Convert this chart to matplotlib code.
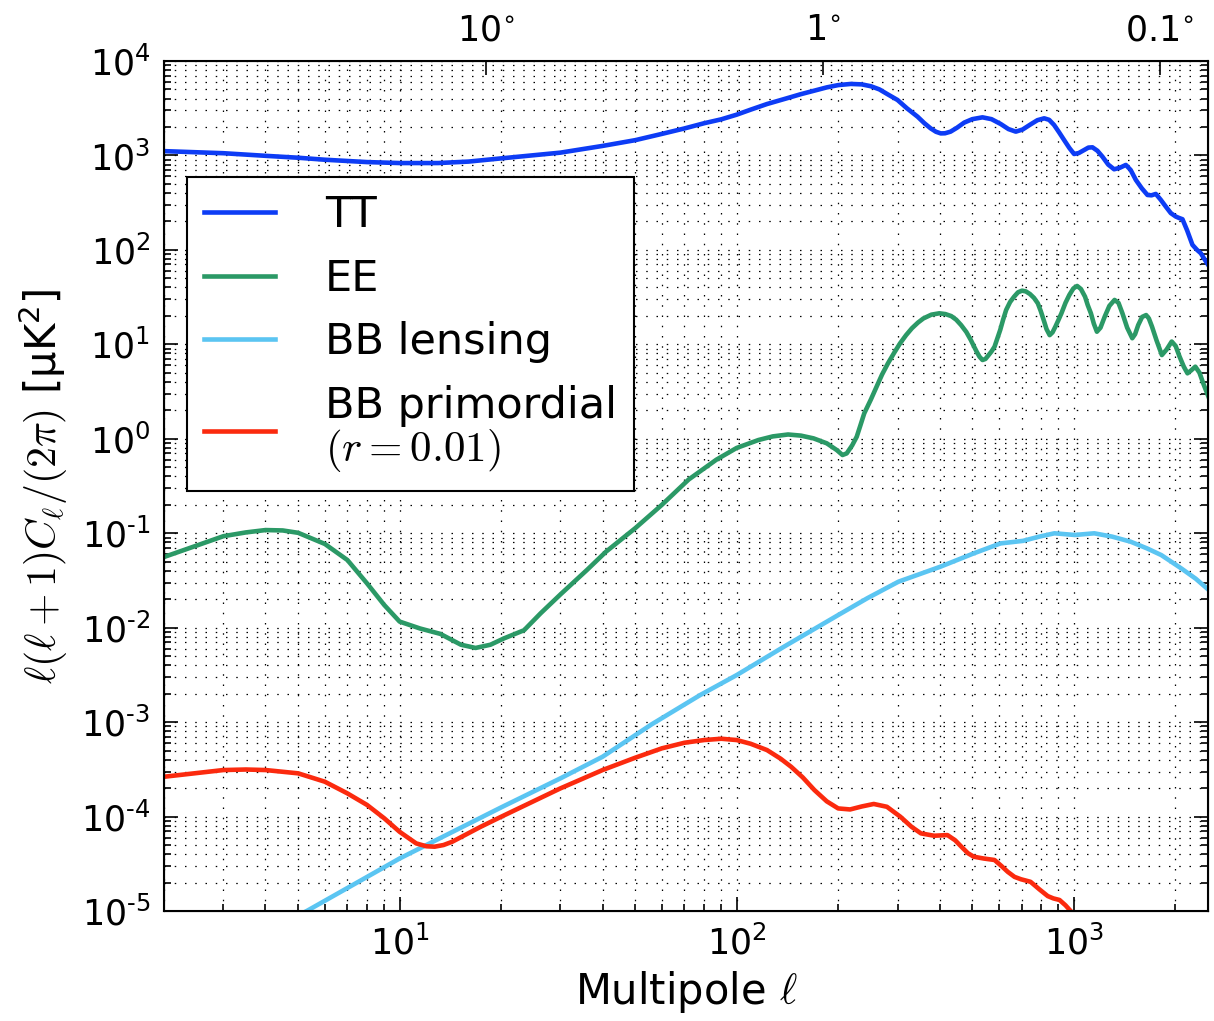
import matplotlib
matplotlib.use('Agg')
import matplotlib.pyplot as plt
import numpy as np
from matplotlib.ticker import FixedLocator, LogLocator, FuncFormatter, NullLocator, NullFormatter

plt.rcParams['font.family'] = 'DejaVu Sans'
plt.rcParams['mathtext.fontset'] = 'cm'

# values (multipole, D_ell in uK^2)
ell_tt = [2, 3, 4, 5, 6, 8, 10, 13, 16, 20, 30, 40, 50, 60, 70, 80, 90, 100, 110, 123,
          140, 155, 170, 185, 200, 218, 235, 250, 265, 280, 300, 320, 344, 360, 376, 390,
          403, 415, 431, 450, 473, 500, 536, 570, 607, 640, 673, 705, 745, 780, 817, 845,
          874, 905, 936, 970, 1002, 1035, 1073, 1105, 1136, 1175, 1216, 1265, 1317, 1370,
          1427, 1475, 1528, 1590, 1654, 1700, 1751, 1810, 1875, 1940, 2008, 2050, 2101,
          2170, 2249, 2320, 2382, 2440, 2500]
tt = [1110, 1055, 990, 945, 900, 850, 830, 830, 860, 930, 1070, 1260, 1450, 1690, 1930, 2190,
      2410, 2700, 3050, 3500, 4000, 4450, 4850, 5250, 5550, 5710, 5650, 5400, 5000, 4450, 3860,
      3150, 2570, 2200, 1935, 1780, 1710, 1715, 1785, 1960, 2225, 2420, 2530, 2420, 2150, 1900,
      1785, 1880, 2135, 2360, 2470, 2380, 2100, 1750, 1455, 1200, 1035, 1060, 1140, 1210, 1218,
      1120, 970, 800, 713, 740, 793, 700, 550, 450, 381, 378, 391, 340, 287, 245, 225, 218, 211,
      160, 113, 100, 92, 80, 70]

ell_ee = [2, 3, 3.5, 4, 4.5, 5, 6, 7, 8, 9, 10, 11.5, 13.2, 15.2, 16.8, 18.6, 20.4, 23.4, 26.2,
          30, 36, 41, 50, 60, 72, 87, 100, 116, 128, 142, 155, 169, 185, 198, 206, 212, 220, 227,
          233, 239, 250, 260, 270, 281, 293, 305, 318, 331, 345, 358, 378, 399, 416, 433, 448,
          463, 480, 495, 505, 515, 525, 536, 547, 559, 570, 582, 593, 605, 617, 630, 647, 665,
          683, 702, 721, 741, 762, 782, 798, 814, 830, 848, 865, 882, 900, 919, 945, 970, 997,
          1023, 1050, 1080, 1100, 1124, 1147, 1171, 1200, 1235, 1275, 1321, 1357, 1394, 1440,
          1491, 1520, 1553, 1595, 1639, 1670, 1706, 1760, 1825, 1885, 1952, 2005, 2060, 2120,
          2174, 2230, 2294, 2360, 2421, 2520]
ee = [0.056, 0.093, 0.102, 0.108, 0.107, 0.101, 0.077, 0.052, 0.0295, 0.0174, 0.0116, 0.0098,
      0.0086, 0.0066, 0.0061, 0.0066, 0.0077, 0.0094, 0.0142, 0.0225, 0.041, 0.064, 0.113, 0.2,
      0.37, 0.6, 0.8, 0.97, 1.06, 1.11, 1.08, 1.01, 0.895, 0.76, 0.673, 0.70, 0.85, 1.05, 1.4,
      1.86, 2.6, 3.56, 4.8, 6.29, 8.1, 10.2, 12.5, 14.8, 17.0, 18.8, 20.6, 21.3, 20.9, 19.9,
      18.2, 16.0, 13.5, 11.1, 9.6, 8.36, 7.4, 6.82, 7.0, 7.70, 8.4, 9.44, 11.5, 14.2, 18.2,
      23.1, 28.0, 31.9, 35.5, 37.0, 36.3, 34.1, 31.0, 27.2, 22.5, 18.1, 14.5, 12.5, 13.4, 15.4,
      18.0, 21.3, 27.5, 33.3, 39.0, 41.5, 38.5, 31.9, 26.0, 21.3, 16.5, 13.6, 15.0, 19.6, 25.5,
      29.5, 27.5, 21.3, 15.0, 11.6, 12.8, 16.0, 19.5, 20.4, 18.8, 15.4, 11.0, 7.70, 8.8, 10.7,
      9.6, 7.40, 5.8, 4.93, 5.3, 5.80, 5.0, 3.86, 2.68]

ell_lens = [5, 5.3, 10, 20, 30, 40, 56, 78, 100, 138, 200, 244, 302, 402, 505, 606, 707, 790,
            876, 1007, 1150, 1300, 1475, 1650, 1818, 2082, 2300, 2500]
bb_lens = [9e-6, 1e-5, 3.6e-5, 1.25e-4, 2.54e-4, 4.3e-4, 9.5e-4, 1.94e-3, 3.15e-3, 6.28e-3,
           1.36e-2, 2.05e-2, 3.07e-2, 4.42e-2, 6.12e-2, 7.8e-2, 8.3e-2, 9.2e-2, 9.98e-2, 9.58e-2,
           9.98e-2, 9.2e-2, 8.13e-2, 6.9e-2, 5.87e-2, 4.25e-2, 3.3e-2, 2.55e-2]

ell_prim = [2, 3, 3.5, 4, 5, 6, 7, 8, 9, 10, 11.2, 12, 12.7, 13.5, 14.3, 17.4, 20, 30, 40, 50,
            60, 70, 80, 90, 100, 110, 123, 135, 145, 157, 170, 185, 200, 217, 235, 255, 279, 306,
            330, 352, 385, 422, 445, 464, 485, 505, 540, 582, 610, 637, 667, 697, 744, 790, 837,
            870, 907, 945, 979, 1050]
bb_prim = [2.64e-4, 3.11e-4, 3.15e-4, 3.11e-4, 2.87e-4, 2.34e-4, 1.76e-4, 1.33e-4, 9.6e-5,
           6.9e-5, 5.2e-5, 4.85e-5, 4.8e-5, 5.0e-5, 5.4e-5, 7.8e-5, 9.95e-5, 1.99e-4, 3.11e-4,
           4.2e-4, 5.28e-4, 6.05e-4, 6.46e-4, 6.67e-4, 6.46e-4, 5.9e-4, 5.06e-4, 4.1e-4, 3.37e-4,
           2.6e-4, 1.91e-4, 1.45e-4, 1.22e-4, 1.19e-4, 1.28e-4, 1.36e-4, 1.27e-4, 9.95e-5, 7.8e-5,
           6.64e-5, 6.27e-5, 6.37e-5, 5.6e-5, 4.8e-5, 4.1e-5, 3.76e-5, 3.6e-5, 3.47e-5, 3.0e-5,
           2.6e-5, 2.3e-5, 2.17e-5, 2.04e-5, 1.7e-5, 1.44e-5, 1.36e-5, 1.31e-5, 1.15e-5, 1.0e-5,
           8e-6]

labels = ['TT', 'EE', 'BB lensing', 'BB primordial\n$(r=0.01)$']
colors = ['#0d3cf5', '#2b9966', '#5bc5f2', '#fb2a0e']

# angular scale on the top axis
top_ell = [18, 180, 1800]
top_labels = [r'$\mathregular{10^{\circ}}$', r'$\mathregular{1^{\circ}}$', r'$\mathregular{0.1^{\circ}}$']


def pow_label(v, pos):
    e = int(round(np.log10(v)))
    return r'$\mathregular{10^{%s}}$' % str(e).replace('-', '\u2010')


fig = plt.figure(figsize=(12.14, 10.21), dpi=100)
ax = fig.add_axes([0.1351, 0.1077, 0.8599, 0.8326])

series = [(ell_tt, tt), (ell_ee, ee), (ell_lens, bb_lens), (ell_prim, bb_prim)]
for (x, y), c, lab in zip(series, colors, labels):
    ax.plot(x, y, color=c, lw=3.3, label=lab, solid_joinstyle='round')

ax.set_xscale('log')
ax.set_yscale('log')
ax.set_xlim(2, 2500)
ax.set_ylim(1e-5, 1e4)

ax.yaxis.set_major_locator(FixedLocator([10.0 ** k for k in range(-5, 5)]))
ax.yaxis.set_minor_locator(LogLocator(base=10, subs=range(2, 10), numticks=30))
ax.xaxis.set_major_locator(FixedLocator([10, 100, 1000]))
ax.xaxis.set_minor_locator(LogLocator(base=10, subs=range(2, 10), numticks=30))
ax.xaxis.set_major_formatter(FuncFormatter(pow_label))
ax.yaxis.set_major_formatter(FuncFormatter(pow_label))
ax.xaxis.set_minor_formatter(NullFormatter())
ax.yaxis.set_minor_formatter(NullFormatter())

ax.grid(True, which='both', color='k', linestyle=(0, (1.2, 7)), linewidth=0.9)
ax.tick_params(which='both', direction='in', top=True, right=True, width=1.2)
ax.tick_params(which='major', length=10, labelsize=25, pad=10)
ax.tick_params(which='minor', length=5)
for s in ax.spines.values():
    s.set_linewidth(1.5)

ax.set_xlabel(r'Multipole $\ell$', fontsize=30, labelpad=6)
ax.set_ylabel(r'$\ell(\ell+1)C_\ell/(2\pi)$ [μK$\mathregular{^2}$]', fontsize=30, labelpad=8)

ax2 = ax.twiny()
ax2.set_xscale('log')
ax2.set_xlim(2, 2500)
ax2.xaxis.set_major_locator(FixedLocator(top_ell))
ax2.xaxis.set_major_formatter(FuncFormatter(lambda v, pos: top_labels[pos]))
ax2.xaxis.set_minor_locator(NullLocator())
ax2.tick_params(which='major', direction='in', length=10, width=1.2, labelsize=25, pad=10)

leg = ax.legend(loc='upper left', bbox_to_anchor=(0.022, 0.8635), borderaxespad=0,
                fontsize=31, fancybox=False, framealpha=1, edgecolor='k',
                handlelength=1.65, handletextpad=1.15, borderpad=0.4, labelspacing=0.5)
leg.get_texts()[3].set_linespacing(1.0)
leg.get_frame().set_linewidth(1.5)

fig.savefig('out.png', dpi=100)
